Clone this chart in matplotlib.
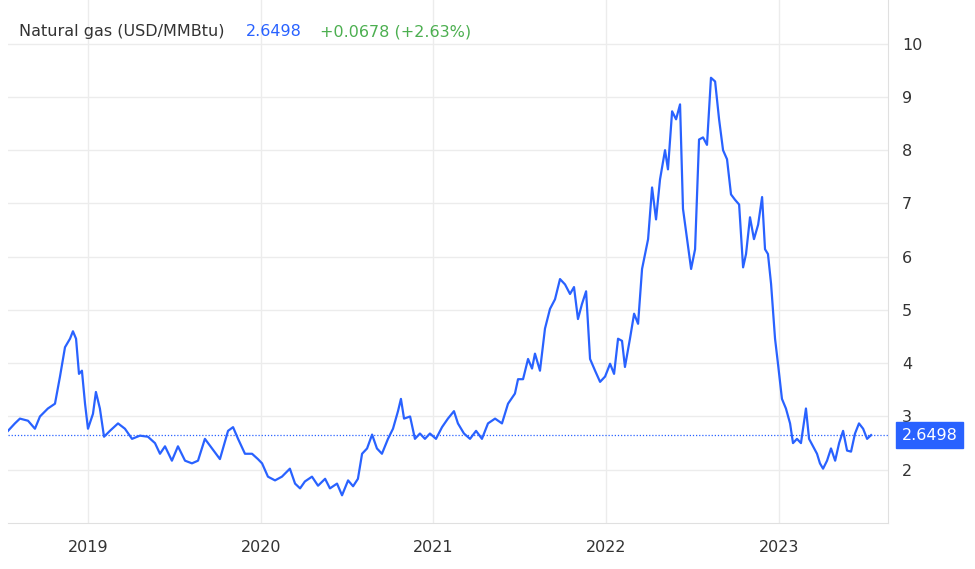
import matplotlib
matplotlib.use("Agg")
import matplotlib.pyplot as plt

years = [2018.537,2018.577,2018.606,2018.653,2018.693,2018.722,2018.768,2018.809,2018.838,2018.867,2018.896,2018.913,2018.931,2018.948,2018.965,2018.983,
2019.000,2019.029,2019.046,2019.069,2019.093,2019.127,2019.174,2019.214,2019.255,2019.301,2019.347,2019.388,2019.417,2019.446,2019.486,2019.521,2019.562,2019.602,2019.637,2019.677,2019.718,2019.764,2019.811,2019.840,2019.869,2019.909,2019.950,2019.984,
2020.008,2020.042,2020.083,2020.123,2020.169,2020.199,2020.228,2020.256,2020.297,2020.332,2020.373,2020.401,2020.442,2020.471,2020.506,2020.535,2020.563,2020.587,2020.616,2020.645,2020.673,2020.702,2020.737,2020.766,2020.795,2020.812,2020.830,2020.865,2020.893,2020.922,2020.951,2020.980,
2021.015,2021.050,2021.084,2021.119,2021.142,2021.177,2021.212,2021.247,2021.281,2021.316,2021.357,2021.397,2021.432,2021.472,2021.490,2021.519,2021.548,2021.571,2021.588,2021.617,2021.646,2021.675,2021.704,2021.733,2021.762,2021.791,2021.814,2021.837,2021.860,2021.884,2021.907,2021.936,2021.965,2021.994,
2022.023,2022.046,2022.069,2022.092,2022.109,2022.138,2022.162,2022.185,2022.208,2022.243,2022.266,2022.289,2022.312,2022.341,2022.358,2022.382,2022.405,2022.428,2022.445,2022.469,2022.492,2022.515,2022.538,2022.561,2022.584,2022.607,2022.631,2022.654,2022.677,2022.700,2022.723,2022.746,2022.770,2022.793,2022.810,2022.833,2022.856,2022.880,2022.903,2022.920,2022.937,2022.955,2022.978,2022.995,
2023.018,2023.041,2023.065,2023.082,2023.105,2023.128,2023.140,2023.157,2023.175,2023.198,2023.221,2023.238,2023.256,2023.279,2023.302,2023.326,2023.349,2023.372,2023.395,2023.418,2023.441,2023.464,2023.488,2023.511,2023.534]
prices = [2.73,2.87,2.96,2.92,2.77,3.0,3.15,3.24,3.75,4.3,4.46,4.6,4.46,3.8,3.86,3.24,
2.77,3.05,3.46,3.15,2.62,2.73,2.87,2.77,2.58,2.64,2.62,2.5,2.3,2.44,2.17,2.44,2.17,2.12,2.17,2.58,2.4,2.2,2.73,2.8,2.58,2.3,2.3,2.2,
2.12,1.87,1.8,1.87,2.02,1.74,1.65,1.78,1.87,1.7,1.83,1.65,1.74,1.52,1.8,1.69,1.83,2.3,2.4,2.66,2.4,2.3,2.58,2.77,3.1,3.33,2.96,3.0,2.58,2.68,2.58,2.68,
2.58,2.8,2.96,3.1,2.87,2.68,2.58,2.73,2.58,2.87,2.96,2.87,3.24,3.43,3.7,3.7,4.08,3.9,4.18,3.86,4.65,5.02,5.2,5.58,5.48,5.3,5.43,4.83,5.11,5.35,4.08,3.86,3.65,3.75,
3.99,3.8,4.46,4.42,3.93,4.46,4.93,4.74,5.77,6.33,7.3,6.7,7.45,8.0,7.64,8.73,8.58,8.86,6.9,6.33,5.77,6.14,8.2,8.24,8.1,9.36,9.29,8.58,8.0,7.83,7.17,7.07,6.98,5.8,6.05,6.74,6.33,6.6,7.12,6.14,6.05,5.49,4.46,3.99,
3.33,3.15,2.87,2.5,2.58,2.5,2.77,3.15,2.58,2.44,2.3,2.12,2.02,2.17,2.4,2.17,2.5,2.73,2.36,2.34,2.68,2.87,2.77,2.58,2.65]
last_price = 2.6498
year_ticks = [2019, 2020, 2021, 2022, 2023]
y_ticks = [2, 3, 4, 5, 6, 7, 8, 9, 10]

blue = "#2962ff"
fig = plt.figure(figsize=(9.75, 5.69), dpi=100)
ax = fig.add_axes([8/975, 46/569, 880/975, 523/569])
ax.plot(years, prices, color=blue, lw=1.6)
ax.axhline(last_price, color=blue, lw=0.9, ls=(0, (1, 1.5)))
ax.set_xlim(2018.537, 2023.632)
ax.set_ylim(1, 10.82)
ax.set_xticks(year_ticks)
ax.set_xticklabels([str(y) for y in year_ticks])
ax.set_yticks(y_ticks)
ax.yaxis.tick_right()
ax.grid(True, color="#ececec", lw=1)
ax.set_axisbelow(True)
for s in ["top", "left"]:
    ax.spines[s].set_visible(False)
ax.spines["right"].set_color("#e0e0e0")
ax.spines["bottom"].set_color("#e0e0e0")
ax.tick_params(length=0, labelsize=11.5, colors="#333333", pad=10)
ax.tick_params(axis="x", pad=12)
ty = 0.939
ax.text(0.012, ty, "Natural gas (USD/MMBtu)", transform=ax.transAxes, fontsize=11.5, color="#333333", va="center")
ax.text(0.27, ty, "2.6498", transform=ax.transAxes, fontsize=11.5, color=blue, va="center")
ax.text(0.355, ty, "+0.0678 (+2.63%)", transform=ax.transAxes, fontsize=11.5, color="#4caf50", va="center")
ax.annotate("2.6498", xy=(1, last_price), xycoords=("axes fraction", "data"), xytext=(10, 0),
            textcoords="offset points", va="center", ha="left", fontsize=11.5, color="white",
            bbox=dict(boxstyle="square,pad=0.35", fc=blue, ec=blue), annotation_clip=False)
fig.savefig("out.png", dpi=100)
